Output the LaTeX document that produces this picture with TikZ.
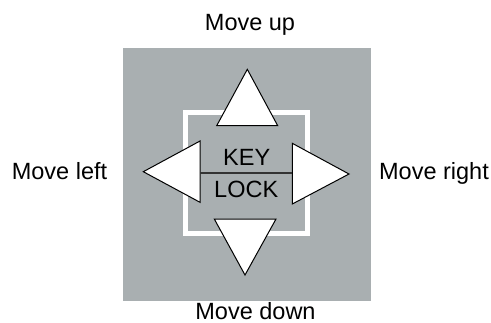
\documentclass[tikz,border=0pt]{standalone}
\usepackage{fontspec}
\setmainfont{Liberation Sans}
\definecolor{pcFFFFFF}{HTML}{FFFFFF}
\definecolor{pcA9AFB1}{HTML}{A9AFB1}
\definecolor{pc000000}{HTML}{000000}
\definecolor{pc333333}{HTML}{333333}
\tikzset{
  label text/.style={anchor=base, inner sep=0, text=pc000000, font=\fontsize{23.5bp}{28bp}\selectfont},
  arrow key/.style={fill=pcFFFFFF, draw=pc000000, line width=1.000bp, line join=miter},
}
\begin{document}
\begin{tikzpicture}[x=1bp, y=-1bp]
\path[use as bounding box] (0,0) rectangle (491,322);
\path[fill=pcFFFFFF] (0,0) rectangle (491,322);
% key pad
\path[fill=pcA9AFB1] (122.7,48.3) rectangle (370.8,300.7);
\draw[line width=5.000bp, color=pcFFFFFF] (185.5,112.0) rectangle (307.2,233.6);
% direction keys
\path[arrow key] (247.3,69.3) -- (277.7,125.7) -- (216.7,125.7) -- cycle;
\path[arrow key] (245.0,275.0) -- (214.3,219.0) -- (276.0,219.0) -- cycle;
\path[arrow key] (143.3,171.7) -- (200.0,141.0) -- (200.0,202.3) -- cycle;
\path[arrow key] (349.0,174.0) -- (292.3,143.3) -- (292.3,204.0) -- cycle;
\coordinate (lbase) at (200.0,173.0);
\coordinate (rbase) at (292.3,173.0);
\draw[line width=1.500bp, color=pc333333] (lbase) -- (rbase);
\node[label text] (key) at (246.7,165.0) {KEY};
\node[label text] (lock) at (246.2,197.3) {LOCK};
% labels
\node[label text] (up) at (250.0,30.0) {Move up};
\node[label text] (down) at (255.5,319.3) {Move down};
\node[label text] (left) at (59.5,179.0) {Move left};
\node[label text] (right) at (434.0,179.3) {Move right};
\end{tikzpicture}
\end{document}
